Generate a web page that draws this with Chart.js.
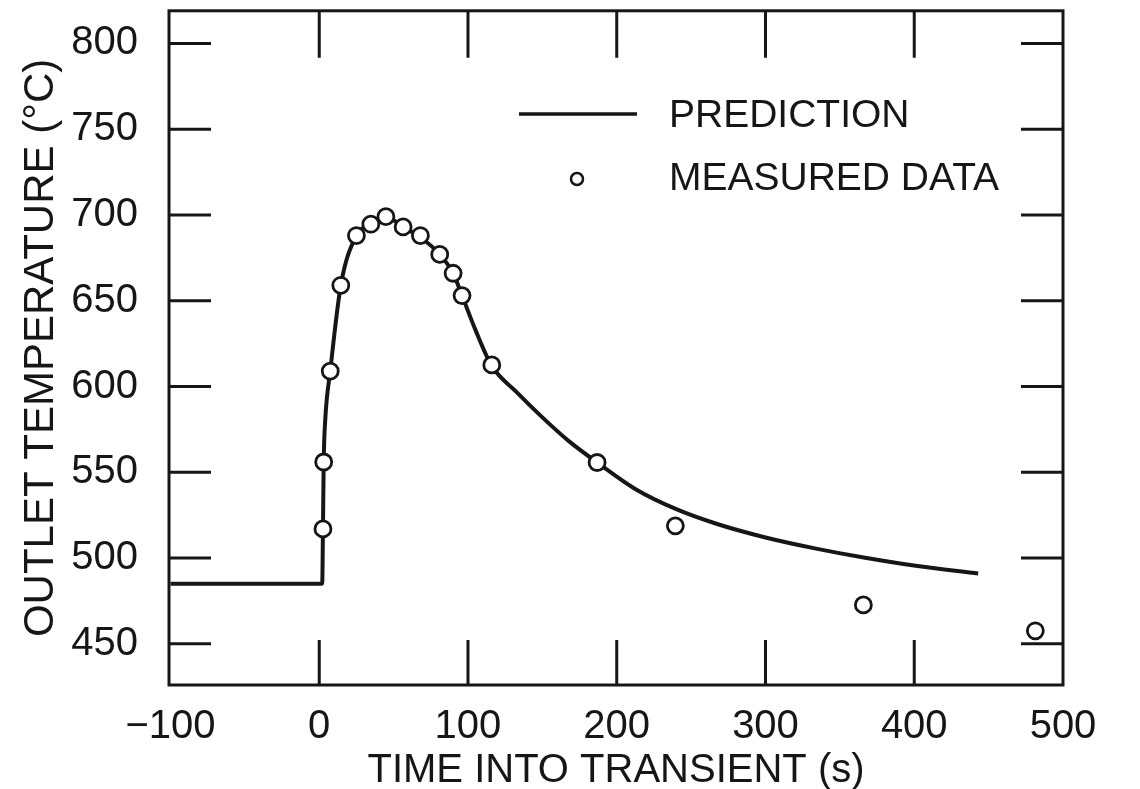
<!DOCTYPE html>
<html>
<head>
<meta charset="utf-8">
<title>Outlet temperature transient</title>
<script src="https://cdn.jsdelivr.net/npm/chart.js@4.4.0/dist/chart.umd.min.js"></script>
<style>
  html, body { margin: 0; padding: 0; background: #fff; }
  canvas { display: block; }
</style>
</head>
<body>
<canvas id="chart" width="1140" height="789"></canvas>
<script>
// ---- data -----------------------------------------------------------
const predTime = [-100, 2, 2.5, 3, 4, 7.4, 14.5, 25, 34.7, 44.8, 56.4, 68, 81, 90, 96, 105, 116, 132, 150, 168, 188, 213, 240, 267, 300, 334, 366, 401, 443];
const predTemp = [485, 485, 517, 556, 580, 609, 659, 688, 694.6, 699, 693, 687, 677, 666, 653, 633, 612, 597.3, 582, 568, 555, 540, 528.5, 520, 512, 505.5, 500.3, 495.5, 491];

const measTime = [2.5, 3, 7.4, 14.5, 25, 34.7, 44.8, 56.4, 68, 81, 90, 96, 116, 186.8, 239.4, 365.8, 481.4];
const measTemp = [517, 556, 609, 659, 688, 694.6, 699, 693, 688, 677, 666, 653, 612.6, 555.7, 518.8, 472.7, 457.6];

const xTicks = [-100, 0, 100, 200, 300, 400, 500];
const yTicks = [450, 500, 550, 600, 650, 700, 750, 800];
const legendLabels = ['PREDICTION', 'MEASURED DATA'];

const INK  = '#161616';
const FONT = "'Liberation Sans', Arial, Helvetica, sans-serif";

// ---- frame with inward tick marks on all four sides --------------------
const framePlugin = {
  id: 'frame',
  afterDatasetsDraw(chart) {
    const { ctx, chartArea: a, scales: { x, y } } = chart;
    ctx.save();
    ctx.strokeStyle = INK;
    ctx.lineWidth = 3;
    ctx.lineCap = 'butt';
    ctx.strokeRect(a.left, a.top, a.right - a.left, a.bottom - a.top);
    ctx.beginPath();
    xTicks.forEach(v => {
      const px = x.getPixelForValue(v);
      if (px <= a.left + 2 || px >= a.right - 2) return;
      ctx.moveTo(px, a.bottom); ctx.lineTo(px, a.bottom - 45);
      ctx.moveTo(px, a.top);    ctx.lineTo(px, a.top + 47);
    });
    yTicks.forEach(v => {
      const py = y.getPixelForValue(v);
      ctx.moveTo(a.left, py);  ctx.lineTo(a.left + 42, py);
      ctx.moveTo(a.right, py); ctx.lineTo(a.right - 42, py);
    });
    ctx.stroke();
    ctx.restore();
  }
};

// ---- legend drawn inside the plot, upper right ------------------------
const legendPlugin = {
  id: 'innerLegend',
  afterDraw(chart) {
    const { ctx } = chart;
    ctx.save();
    ctx.strokeStyle = INK;
    ctx.fillStyle = INK;
    ctx.lineWidth = 3.5;
    ctx.beginPath();
    ctx.moveTo(519, 114); ctx.lineTo(637, 114);
    ctx.stroke();
    ctx.lineWidth = 2.5;
    ctx.beginPath();
    ctx.arc(577, 179, 6, 0, Math.PI * 2);
    ctx.stroke();
    ctx.font = `39px ${FONT}`;
    ctx.textBaseline = 'middle';
    ctx.textAlign = 'left';
    ctx.fillText(legendLabels[0], 669, 116);
    ctx.fillText(legendLabels[1], 669, 179);
    ctx.restore();
  }
};

const whiteBg = {
  id: 'whiteBg',
  beforeDraw(chart) {
    const { ctx, width, height } = chart;
    ctx.save();
    ctx.fillStyle = '#fff';
    ctx.fillRect(0, 0, width, height);
    ctx.restore();
  }
};

const ctx = document.getElementById('chart').getContext('2d');
new Chart(ctx, {
  type: 'scatter',
  data: {
    datasets: [
      {
        label: legendLabels[1],
        data: measTime.map((t, i) => ({ x: t, y: measTemp[i] })),
        pointRadius: 8,
        pointBorderWidth: 2.8,
        pointBackgroundColor: '#fff',
        pointBorderColor: INK,
        order: 0,
      },
      {
        type: 'line',
        label: legendLabels[0],
        data: predTime.map((t, i) => ({ x: t, y: predTemp[i] })),
        borderColor: INK,
        borderWidth: 4,
        pointRadius: 0,
        cubicInterpolationMode: 'monotone',
        fill: false,
        order: 1,
      },
    ],
  },
  options: {
    responsive: false,
    animation: false,
    layout: { padding: { top: 10, right: 77, left: 0, bottom: 0 } },
    plugins: { legend: { display: false }, tooltip: { enabled: false } },
    scales: {
      x: {
        type: 'linear',
        min: -101,
        max: 500,
        afterBuildTicks: ax => { ax.ticks = xTicks.map(v => ({ value: v })); },
        afterFit: s => { s.height = 104; s.paddingLeft = 0; s.paddingRight = 0; },
        grid: { display: false },
        border: { display: false },
        ticks: {
          color: INK,
          font: { family: FONT, size: 40 },
          padding: 10,
          maxRotation: 0,
          callback: v => String(v).replace('-', '\u2212'),
        },
        title: {
          display: true,
          text: 'TIME INTO TRANSIENT (s)',
          color: INK,
          font: { family: FONT, size: 40, lineHeight: 1 },
          padding: { top: 0, bottom: -2 },
        },
      },
      y: {
        type: 'linear',
        min: 426,
        max: 819,
        afterBuildTicks: ax => { ax.ticks = yTicks.map(v => ({ value: v })); },
        afterFit: s => { s.width = 169; s.paddingTop = 0; s.paddingBottom = 0; },
        grid: { display: false },
        border: { display: false },
        ticks: {
          color: INK,
          font: { family: FONT, size: 40 },
          padding: 23,
        },
        title: {
          display: true,
          text: 'OUTLET TEMPERATURE (\u00B0C)',
          color: INK,
          font: { family: FONT, size: 42, lineHeight: 1 },
          padding: { top: 20, bottom: 0 },
        },
      },
    },
  },
  plugins: [whiteBg, framePlugin, legendPlugin],
});
</script>
</body>
</html>
